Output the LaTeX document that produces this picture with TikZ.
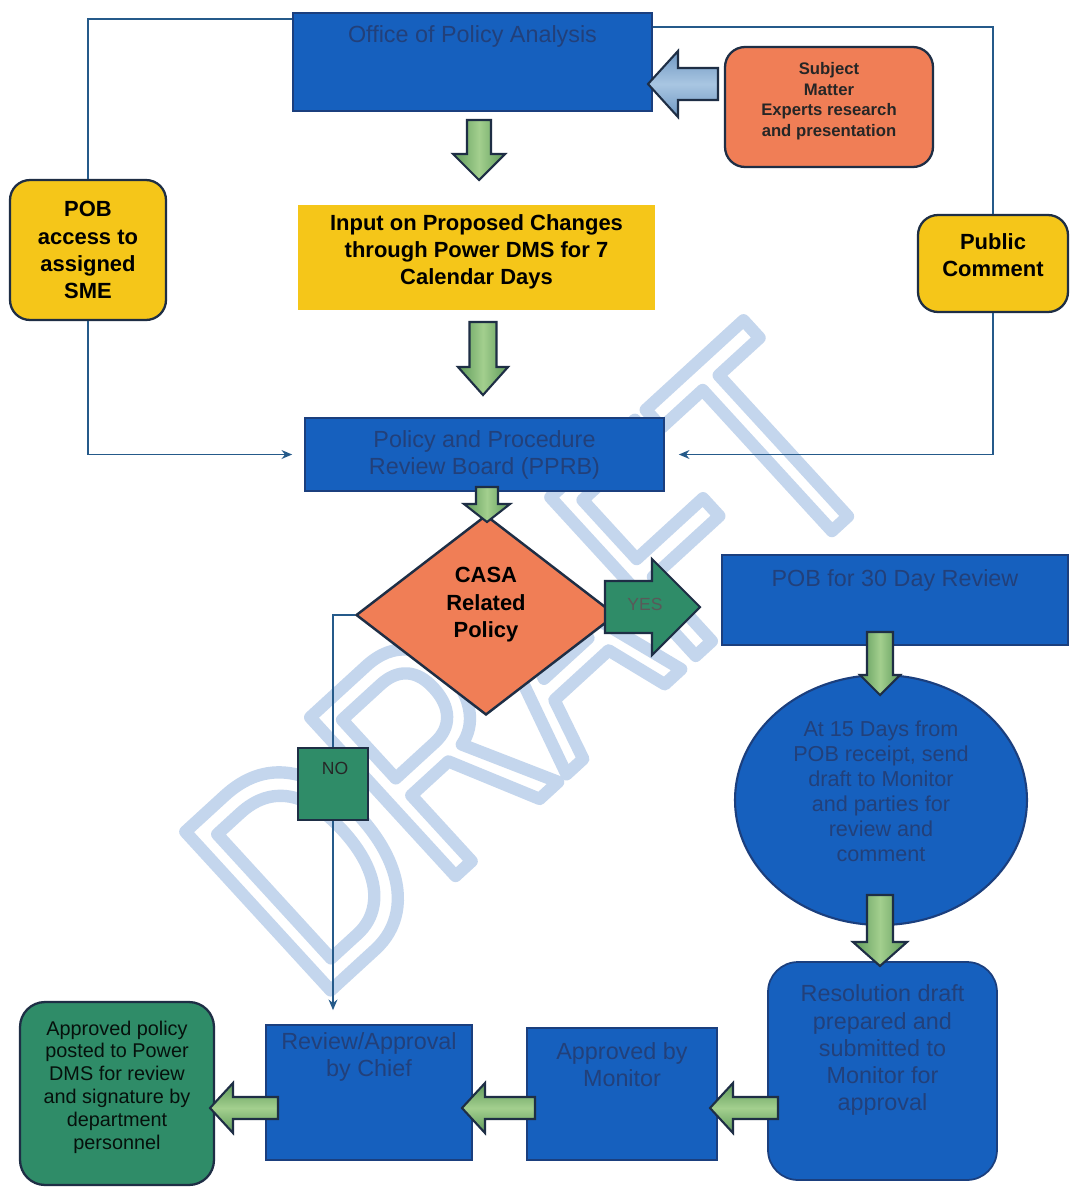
\documentclass[tikz,border=0pt]{standalone}
\usepackage{fontspec}
\setmainfont{Liberation Sans}
\newfontfamily\wmfont[FakeStretch=0.75]{Liberation Sans}
\usetikzlibrary{shapes.geometric,arrows.meta,calc}

\definecolor{bfill}{HTML}{1660BE}
\definecolor{bdraw}{HTML}{1B3F7E}
\definecolor{btext}{HTML}{22407A}
\definecolor{ofill}{HTML}{F07E56}
\definecolor{yfill}{HTML}{F5C619}
\definecolor{gfill}{HTML}{2F8C68}
\definecolor{agA}{HTML}{5E9A5A}
\definecolor{agB}{HTML}{A3CF8E}
\definecolor{sfillA}{HTML}{6E97C2}
\definecolor{sfillB}{HTML}{A9C6E2}
\definecolor{dk}{HTML}{1E2E45}
\definecolor{lnc}{HTML}{255A8A}
\definecolor{wm}{HTML}{C6D8ED}

\newcommand{\dnarrow}[7]{% cx, ytop, ytip, shaft w, head w, head len, style
  \draw[#7] (#1-#4/2,#2) -- (#1+#4/2,#2) -- (#1+#4/2,#3-#6) -- (#1+#5/2,#3-#6)
    -- (#1,#3) -- (#1-#5/2,#3-#6) -- (#1-#4/2,#3-#6) -- cycle;}
\newcommand{\lfarrow}[7]{% xtip, xtail, cy, shaft w, head w, head len, style
  \draw[#7] (#2,#3-#4/2) -- (#1+#6,#3-#4/2) -- (#1+#6,#3-#5/2) -- (#1,#3)
    -- (#1+#6,#3+#5/2) -- (#1+#6,#3+#4/2) -- (#2,#3+#4/2) -- cycle;}
\newcommand{\rtarrow}[7]{% xtail, xtip, cy, shaft w, head w, head len, style
  \draw[#7] (#1,#3-#4/2) -- (#2-#6,#3-#4/2) -- (#2-#6,#3-#5/2) -- (#2,#3)
    -- (#2-#6,#3+#5/2) -- (#2-#6,#3+#4/2) -- (#1,#3+#4/2) -- cycle;}

\begin{document}
\begin{tikzpicture}[x=0.02cm,y=-0.02cm,
  bluebox/.style={draw=bdraw, line width=1pt, fill=bfill, inner sep=0pt},
  btxt/.style={text=btext, font=\fontsize{13.3}{15.4}\selectfont, align=center, inner sep=0pt},
  ybox/.style={draw=dk, line width=1.3pt, fill=yfill, rounded corners=0.4cm, inner sep=0pt,
    align=center, font=\bfseries\fontsize{12.5}{15.4}\selectfont},
  varr/.style={draw=dk, line width=1.2pt, left color=agA, right color=agA, middle color=agB, line join=miter},
  harr/.style={draw=dk, line width=1.2pt, top color=agA, bottom color=agA, middle color=agB, line join=miter},
  conn/.style={draw=lnc, line width=1.1pt},
  tip/.style={-{Stealth[length=6pt,width=5pt]}}
]
\useasboundingbox (0,0) rectangle (1070,1188);
\fill[white] (0,0) rectangle (1070,1188);

% watermark (outlined letters)
\node[rotate=42.5, text=wm, inner sep=0pt] (wmark) at (532,660)
  {\wmfont\fontsize{178}{178}\selectfont\special{pdf:literal direct 1 Tr 7 w 1 j 0.77 0.84 0.93 RG}DRAFT\special{pdf:literal direct 0 Tr}};

% nodes
\node[bluebox, minimum width=7.18cm, minimum height=1.96cm] (opa) at (472.5,62) {};
\node[btxt] (opaT) at (472.5,36) {Office of Policy Analysis};

\node[draw=dk, line width=1.3pt, fill=ofill, rounded corners=0.4cm, minimum width=4.16cm,
  minimum height=2.4cm, inner sep=0pt] (sme) at (829,107) {};
\node[align=center, inner sep=0pt, text=black!85,
  font=\bfseries\fontsize{9.5}{11.7}\selectfont] (smeT) at (829,101)
  {Subject\\Matter\\Experts research\\and presentation};

\node[ybox, minimum width=3.12cm, minimum height=2.8cm] (pob) at (88,250)
  {POB\\access to\\assigned\\SME};
\node[ybox, minimum width=3.0cm, minimum height=1.94cm] (pub) at (993,263.5) {};
\node[align=center, inner sep=0pt, font=\bfseries\fontsize{12.5}{15.4}\selectfont] (pubT)
  at (993,255) {Public\\Comment};

\node[fill=yfill, minimum width=7.14cm, minimum height=2.1cm, inner sep=0pt] (inp) at (476.5,257.5) {};
\node[align=center, inner sep=0pt, font=\bfseries\fontsize{12.5}{15.4}\selectfont] (inpT)
  at (476.5,252) {Input on Proposed Changes\\through Power DMS for 7\\Calendar Days};

\node[bluebox, minimum width=7.18cm, minimum height=1.46cm] (pprb) at (484.5,454.5) {};
\node[btxt] (pprbT) at (484.5,454.5) {Policy and Procedure\\Review Board (PPRB)};

\node[diamond, draw=dk, line width=1.4pt, fill=ofill, minimum width=5.2cm, minimum height=4cm,
  inner sep=0pt] (dia) at (486,615) {};
\node[align=center, inner sep=0pt, font=\bfseries\fontsize{12.5}{15.6}\selectfont] (diaT)
  at (486,605) {CASA\\Related\\Policy};

\node[bluebox, minimum width=6.92cm, minimum height=1.8cm] (pob30) at (895,600) {};
\node[btxt] (pob30T) at (895,580) {POB for 30 Day Review};

\node[ellipse, draw=bdraw, line width=1.2pt, fill=bfill, minimum width=5.84cm, minimum height=5cm,
  inner sep=0pt] (ell) at (881,800) {};
\node[btxt, font=\fontsize{12.3}{14.2}\selectfont] (ellT) at (881,791)
  {At 15 Days from\\POB receipt, send\\draft to Monitor\\and parties for\\review and\\comment};

\node[bluebox, rounded corners=0.6cm, minimum width=4.58cm, minimum height=4.36cm] (res) at (882.5,1071) {};
\node[btxt] (resT) at (882.5,1050)
  {Resolution draft\\prepared and\\submitted to\\Monitor for\\approval};

\node[bluebox, minimum width=3.8cm, minimum height=2.64cm] (mon) at (622,1094) {};
\node[btxt] (monT) at (622,1065) {Approved by\\Monitor};

\node[bluebox, minimum width=4.12cm, minimum height=2.7cm] (chief) at (369,1092.5) {};
\node[btxt] (chiefT) at (369,1056.5) {Review/Approval\\by Chief};

\node[draw=dk, line width=1.3pt, fill=gfill, rounded corners=0.5cm, minimum width=3.88cm,
  minimum height=3.66cm, inner sep=0pt] (appr) at (117,1093.5) {};
\node[align=center, inner sep=0pt, text=black!88!gfill, font=\fontsize{11.3}{13}\selectfont] (apprT)
  at (117,1087) {Approved policy\\posted to Power\\DMS for review\\and signature by\\department\\personnel};

\node[draw=dk, line width=1.2pt, fill=gfill, minimum width=1.4cm, minimum height=1.44cm,
  inner sep=0pt] (nob) at (333,784) {};
\node[inner sep=0pt, text=black!85, font=\fontsize{10}{12}\selectfont] (nobT) at (335,768) {NO};

% connectors
\draw[conn] (pob.north) |- ($(opa.north west)+(0,7)$);
\draw[conn,tip] (pob.south) |- ($(pprb.west)+(-12,0)$);
\draw[conn] ($(opa.north east)+(0,15)$) -| (pub.north);
\draw[conn,tip] (pub.south) |- ($(pprb.east)+(14,0)$);
\draw[conn] (dia.west) -| (nob.north);
\draw[conn,tip] (nob.south) -- ($(nob.south |- chief.north)+(0,-14)$);

% block arrows
\lfarrow{648}{718}{84}{32}{66}{30}{harr, top color=sfillA, bottom color=sfillA, middle color=sfillB}
\dnarrow{479}{120}{180}{24}{52}{26}{varr}
\dnarrow{483}{322}{395}{27}{50}{28}{varr}
\dnarrow{487}{487}{522}{22}{46}{18}{varr}
\rtarrow{605}{700}{607}{52}{96}{48}{draw=dk, line width=1.2pt, fill=gfill}
\node[inner sep=0pt, text=black!65, font=\fontsize{10}{12}\selectfont] (yesT) at (645,604) {YES};
\dnarrow{880}{632}{695}{26}{40}{20}{varr}
\dnarrow{880}{895}{966}{26}{54}{24}{varr}
\lfarrow{710}{778}{1108}{22}{50}{23}{harr}
\lfarrow{462}{535}{1108}{22}{50}{23}{harr}
\lfarrow{210}{278}{1108}{22}{50}{23}{harr}
\end{tikzpicture}
\end{document}
